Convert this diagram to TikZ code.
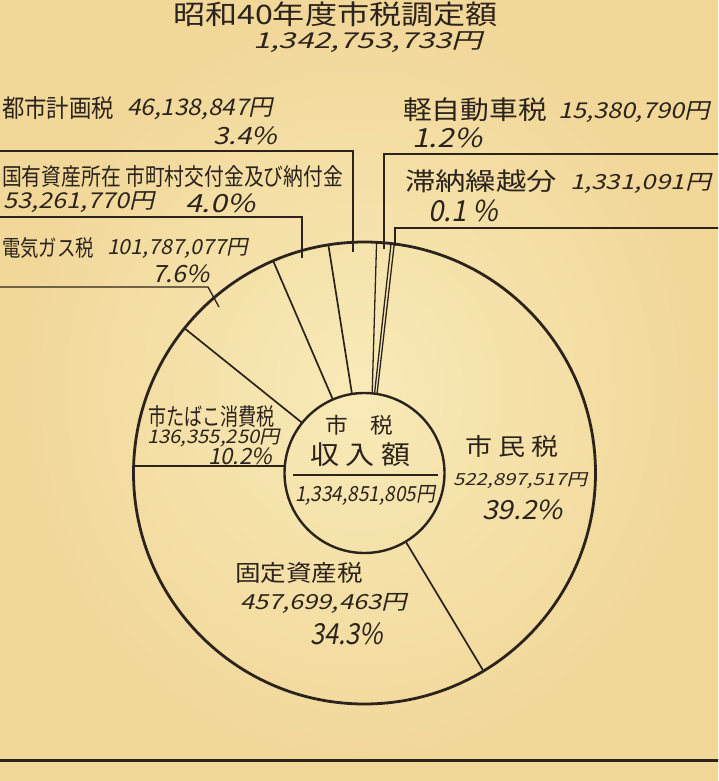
\documentclass[tikz,border=0pt]{standalone}
\usepackage{graphicx}
\usepackage{fontspec}
\setmainfont{Noto Sans CJK JP}
\newfontfamily\slnt[FakeSlant=0.2]{Noto Sans CJK JP}
\usetikzlibrary{calc}
\definecolor{ink}{HTML}{2B231C}
\definecolor{paperL}{HTML}{F8EAB8}
\definecolor{paperD}{HTML}{F1D798}
\newcommand\fitT[3]{\resizebox*{#1pt}{#2pt}{#3}}
\tikzset{
  lbl/.style={anchor=north west, inner sep=0pt, outer sep=0pt, text=ink},
  rim/.style={draw=ink, line width=2.8pt},
  hub/.style={draw=ink, line width=2.4pt},
  spoke/.style={draw=ink, line width=1.7pt},
  leader/.style={draw=ink, line width=1.3pt},
  rule/.style={draw=ink, line width=3pt}
}
\begin{document}
\begin{tikzpicture}[x=1pt,y=-1pt]
\useasboundingbox (0,0) rectangle (718,781);
\clip (0,0) rectangle (718,781);
\shade[inner color=paperL, outer color=paperD] (0,0) rectangle (718,781);

% centre
\coordinate (O) at (364.5,473);

% pie rims
\draw[rim] (O) circle[radius=231];
\draw[hub] (O) circle[radius=80];

% spokes (screen angles, y axis downwards => negated)
\coordinate (s1o) at (133.6,466);
\coordinate (s1i) at (284.8,466);
\draw[spoke] (s1o) -- (s1i);
\draw[spoke] ($(O)+(-141.2:231)$) coordinate (s2o) -- ($(O)+(-141.2:80)$) coordinate (s2i);
\draw[spoke] ($(O)+(-113.3:231)$) coordinate (s3o) -- ($(O)+(-113.3:80)$) coordinate (s3i);
\draw[spoke] ($(O)+(-99:231)$) coordinate (s4o) -- ($(O)+(-99:80)$) coordinate (s4i);
\draw[spoke, line width=1.3pt] ($(O)+(-87:231)$) coordinate (s5o) -- ($(O)+(-84.5:80)$) coordinate (s5i);
\draw[spoke, line width=1.3pt] ($(O)+(-83.4:231)$) coordinate (s6o) -- ($(O)+(-82.8:80)$) coordinate (s6i);
\draw[spoke, line width=1.3pt] ($(O)+(-82.6:231)$) coordinate (s7o) -- ($(O)+(-81:80)$) coordinate (s7i);
\draw[spoke] ($(O)+(59:231)$) coordinate (s8o) -- ($(O)+(59:80)$) coordinate (s8i);

% divider inside hub
\coordinate (hl) at (293,475);
\coordinate (hr) at (438,475);
\draw[draw=ink, line width=1.8pt] (hl) -- (hr);

% leaders
\coordinate (p1a) at (-5,151); \coordinate (p1b) at (353,151); \coordinate (p1c) at (353,252);
\draw[leader] (p1a) -- (p1b) -- (p1c);
\coordinate (p2a) at (-5,217); \coordinate (p2b) at (302,217); \coordinate (p2c) at (302,258);
\draw[leader] (p2a) -- (p2b) -- (p2c);
\coordinate (p3a) at (-5,287); \coordinate (p3b) at (208,287); \coordinate (p3c) at (219,307);
\draw[leader] (p3a) -- (p3b) -- (p3c);
\coordinate (q1a) at (723,154); \coordinate (q1b) at (384,154); \coordinate (q1c) at (384,249);
\draw[leader] (q1a) -- (q1b) -- (q1c);
\coordinate (q2a) at (723,228); \coordinate (q2b) at (395,228); \coordinate (q2c) at (395,246);
\draw[leader] (q2a) -- (q2b) -- (q2c);

% bottom rule
\coordinate (r1) at (-5,760); \coordinate (r2) at (723,760);
\draw[rule] (r1) -- (r2);

% texts
\node[lbl] (t1) at (173,2) {\fitT{325}{25}{昭和40年度市税調定額}};
\node[lbl] (t2) at (253,32) {\fitT{230}{21}{\slnt 1,342,753,733円}};

\node[lbl] (a1) at (2,97) {\fitT{112}{23}{都市計画税}};
\node[lbl] (a2) at (127,98) {\fitT{146}{22}{\slnt 46,138,847円}};
\node[lbl] (a3) at (213,127) {\fitT{64}{18}{\slnt 3.4\%}};

\node[lbl] (b1) at (2,165) {\fitT{341}{22}{国有資産所在\ 市町村交付金及び納付金}};
\node[lbl] (b2) at (4,192) {\fitT{151}{21}{\slnt 53,261,770円}};
\node[lbl] (b3) at (185,194) {\fitT{70}{19}{\slnt 4.0\%}};

\node[lbl] (c1) at (2,237) {\fitT{92}{21}{電気ガス税}};
\node[lbl] (c2) at (107,238) {\fitT{141}{20}{\slnt 101,787,077円}};
\node[lbl] (c3) at (152,265) {\fitT{58}{18}{\slnt 7.6\%}};

\node[lbl] (d1) at (403,98) {\fitT{144}{24}{軽自動車税}};
\node[lbl] (d2) at (558,102) {\fitT{152}{21}{\slnt 15,380,790円}};
\node[lbl] (d3) at (412,128) {\fitT{70}{20}{\slnt 1.2\%}};

\node[lbl] (e1) at (405,170) {\fitT{152}{23}{滞納繰越分}};
\node[lbl] (e2) at (570,173) {\fitT{141}{20}{\slnt 1,331,091円}};
\node[lbl] (e3) at (428,200) {\fitT{70}{22}{\slnt 0.1 \%}};

\node[lbl] (f1) at (148,405) {\fitT{127}{22}{市たばこ消費税}};
\node[lbl] (f2) at (147,429) {\fitT{133}{18}{\slnt 136,355,250円}};
\node[lbl] (f3) at (208,448) {\fitT{64}{17}{\slnt 10.2\%}};

\node[lbl] (g1) at (325,415) {\fitT{68}{20}{市　税}};
\node[lbl] (g2) at (310,443) {\fitT{100}{24}{収 入 額}};
\node[lbl] (g3) at (295,485) {\fitT{140}{20}{\slnt 1,334,851,805円}};

\node[lbl] (h1) at (465,435) {\fitT{93}{22}{市 民 税}};
\node[lbl] (h2) at (453,473) {\fitT{134}{16}{\slnt 522,897,517円}};
\node[lbl] (h3) at (482,500) {\fitT{81}{20}{\slnt 39.2\%}};

\node[lbl] (k1) at (235,562) {\fitT{128}{21}{固定資産税}};
\node[lbl] (k2) at (240,593) {\fitT{167}{20}{\slnt 457,699,463円}};
\node[lbl] (k3) at (310,623) {\fitT{73}{22}{\slnt 34.3\%}};
\end{tikzpicture}
\end{document}
